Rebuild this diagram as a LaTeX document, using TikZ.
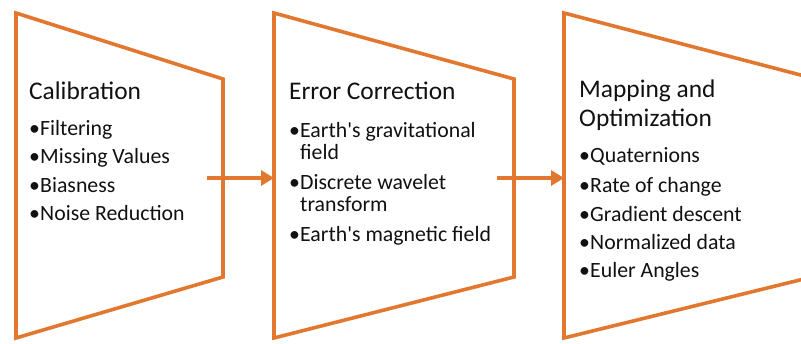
\documentclass[tikz,border=0pt]{standalone}
\usepackage{fontspec}
\setmainfont{Carlito}
\newfontfamily\plainfont{Carlito}
\usetikzlibrary{arrows.meta}
\definecolor{accent}{HTML}{E27830}
\definecolor{ink}{HTML}{111111}
\newcommand{\bul}{\makebox[11pt][l]{\textbullet}}
\newcommand{\apos}{{\plainfont\char"0027}}
\tikzset{
  stage/.style={draw=accent, line width=3.6pt, line join=miter},
  flow/.style={draw=accent, line width=3.6pt, -{Triangle[length=13pt,width=15pt]}},
  head/.style={anchor=base west, inner sep=0pt, text=ink, font=\fontsize{25.4}{29}\selectfont},
  item/.style={anchor=base west, inner sep=0pt, text=ink, font=\fontsize{21.8}{22}\selectfont},
}
\begin{document}
\begin{tikzpicture}[x=1pt,y=-1pt]
\useasboundingbox (0,0) rectangle (801,344);
\clip (0,0) rectangle (801,344);
% stages
\draw[stage] (16,13) -- (223,79) -- (223,277) -- (16,338) -- cycle;
\draw[stage] (274,13) -- (514,79) -- (514,277) -- (274,338) -- cycle;
\draw[stage] (564,13) -- (812,78) -- (812,277) -- (564,338) -- cycle;
% connectors
\coordinate (a1s) at (207,178);
\coordinate (a1e) at (274,178);
\coordinate (a2s) at (497,178);
\coordinate (a2e) at (564,178);
\draw[flow] (a1s) -- (a1e);
\draw[flow] (a2s) -- (a2e);
% stage 1
\node[head] (h1) at (29,100) {Calibration};
\node[item] (c1) at (29,136) {\bul Filtering};
\node[item] (c2) at (29,164) {\bul Missing Values};
\node[item] (c3) at (29,192.5) {\bul Biasness};
\node[item] (c4) at (29,220.5) {\bul Noise Reduction};
% stage 2
\node[head] (h2) at (289,100) {Error Correction};
\node[item] (e1) at (289,138) {\bul Earth\apos s gravitational};
\node[item] (e1b) at (300,160) {field};
\node[item] (e2) at (289,190) {\bul Discrete wavelet};
\node[item] (e2b) at (300,212) {transform};
\node[item] (e3) at (289,242) {\bul Earth\apos s magnetic field};
% stage 3
\node[head] (h3) at (579,98) {Mapping and};
\node[head] (h3b) at (579,127) {Optimization};
\node[item] (m1) at (579,163) {\bul Quaternions};
\node[item] (m2) at (579,192.5) {\bul Rate of change};
\node[item] (m3) at (579,221.5) {\bul Gradient descent};
\node[item] (m4) at (579,250) {\bul Normalized data};
\node[item] (m5) at (579,278) {\bul Euler Angles};
\end{tikzpicture}
\end{document}
